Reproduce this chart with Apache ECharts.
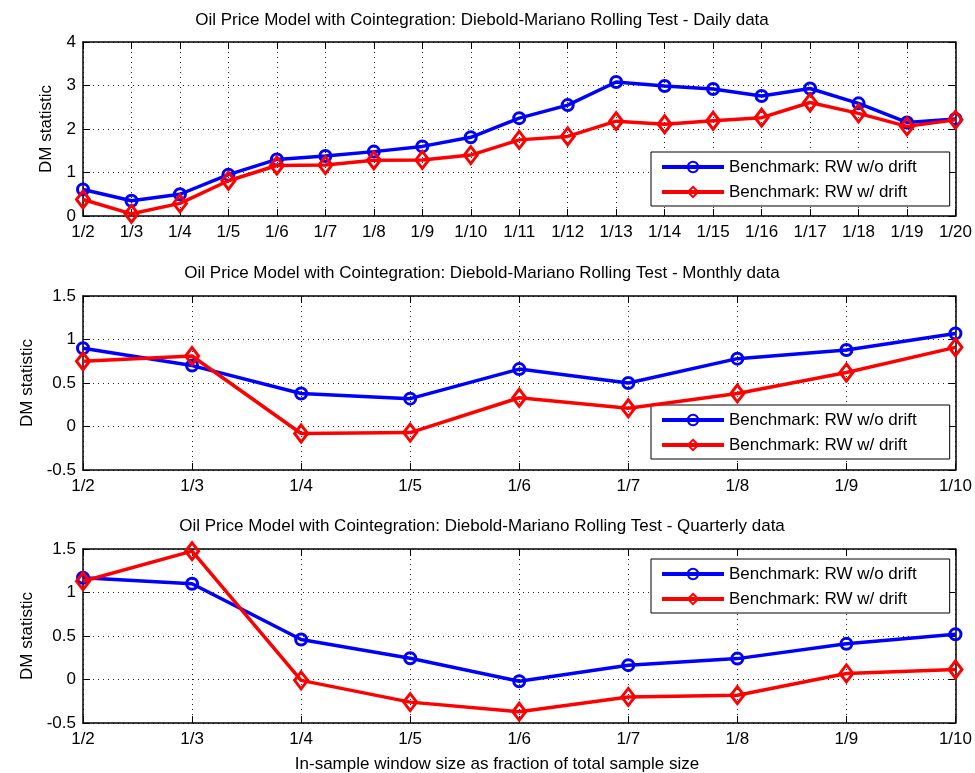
<!DOCTYPE html>
<html>
<head>
<meta charset="utf-8">
<script src="https://cdn.jsdelivr.net/npm/echarts@6/dist/echarts.min.js"></script>
<style>
html,body{margin:0;padding:0;background:#fff;}
#chart{width:975px;height:773px;}
</style>
</head>
<body>
<div id="chart"></div>
<script>
// ---- Data ----
const dailyCats = ['1/2','1/3','1/4','1/5','1/6','1/7','1/8','1/9','1/10','1/11','1/12','1/13','1/14','1/15','1/16','1/17','1/18','1/19','1/20'];
const dailyNoDrift = [0.61,0.35,0.50,0.95,1.30,1.38,1.48,1.60,1.81,2.25,2.55,3.08,2.99,2.92,2.76,2.93,2.59,2.15,2.23];
const dailyDrift   = [0.38,0.05,0.29,0.81,1.16,1.17,1.28,1.29,1.40,1.75,1.83,2.18,2.11,2.19,2.26,2.61,2.36,2.06,2.21];

const monthlyCats = ['1/2','1/3','1/4','1/5','1/6','1/7','1/8','1/9','1/10'];
const monthlyNoDrift = [0.90,0.70,0.38,0.32,0.66,0.50,0.78,0.88,1.07];
const monthlyDrift   = [0.75,0.81,-0.08,-0.07,0.33,0.21,0.38,0.62,0.91];

const quarterlyCats = ['1/2','1/3','1/4','1/5','1/6','1/7','1/8','1/9','1/10'];
const quarterlyNoDrift = [1.17,1.10,0.46,0.245,-0.02,0.165,0.24,0.41,0.52];
const quarterlyDrift   = [1.13,1.475,-0.01,-0.26,-0.37,-0.20,-0.18,0.07,0.115];

const titles = [
  'Oil Price Model with Cointegration: Diebold-Mariano Rolling Test - Daily data',
  'Oil Price Model with Cointegration: Diebold-Mariano Rolling Test - Monthly data',
  'Oil Price Model with Cointegration: Diebold-Mariano Rolling Test - Quarterly data'
];
const yName = 'DM statistic';
const xName = 'In-sample window size as fraction of total sample size';
const seriesNames = ['Benchmark: RW w/o drift', 'Benchmark: RW w/ drift'];

// ---- Layout ----
const FONT = 'Liberation Sans, Arial, sans-serif';
const FS = 17;
const panels = [
  {cats: dailyCats, a: dailyNoDrift, b: dailyDrift, min: 0, max: 4, interval: 1, top: 42, titleY: 12, legendTop: 152},
  {cats: monthlyCats, a: monthlyNoDrift, b: monthlyDrift, min: -0.5, max: 1.5, interval: 0.5, top: 296, titleY: 265, legendTop: 405},
  {cats: quarterlyCats, a: quarterlyNoDrift, b: quarterlyDrift, min: -0.5, max: 1.5, interval: 0.5, top: 549, titleY: 518, legendTop: 559}
];
const H = 174;

const option = {
  animation: false,
  backgroundColor: '#fff',
  title: [], grid: [], xAxis: [], yAxis: [], series: [], legend: []
};

const dotted = {color: '#222', width: 1, type: [1, 4]};
const frame = {show: true, onZero: false, lineStyle: {color: '#000', width: 1.5}};
const tick = {show: true, inside: true, length: 7, lineStyle: {color: '#000'}};

panels.forEach((p, i) => {
  option.title.push({
    text: titles[i], left: 482, top: p.titleY, textAlign: 'center', padding: 0,
    textStyle: {fontFamily: FONT, fontSize: FS, fontWeight: 'normal', color: '#000'}
  });
  option.grid.push({left: 83, right: 16, top: p.top, height: H, show: false});
  const xb = option.xAxis.length;
  option.xAxis.push({
    type: 'category', gridIndex: i, data: p.cats, boundaryGap: false, position: 'bottom',
    axisLine: frame, axisTick: tick,
    axisLabel: {color: '#000', fontFamily: FONT, fontSize: FS, margin: 8},
    splitLine: {show: true, lineStyle: dotted}
  });
  option.xAxis.push({
    type: 'category', gridIndex: i, data: p.cats, boundaryGap: false, position: 'top',
    axisLine: frame, axisTick: tick,
    axisLabel: {show: false}, splitLine: {show: false}
  });
  const yb = option.yAxis.length;
  option.yAxis.push({
    type: 'value', gridIndex: i, min: p.min, max: p.max, interval: p.interval, position: 'left',
    name: yName, nameLocation: 'middle', nameGap: 28,
    nameTextStyle: {color: '#000', fontFamily: FONT, fontSize: FS},
    axisLine: frame, axisTick: tick,
    axisLabel: {color: '#000', fontFamily: FONT, fontSize: FS, margin: 7},
    splitLine: {show: true, lineStyle: dotted}
  });
  option.yAxis.push({
    type: 'value', gridIndex: i, min: p.min, max: p.max, interval: p.interval, position: 'right',
    axisLine: frame, axisTick: tick,
    axisLabel: {show: false}, splitLine: {show: false}
  });
  option.series.push({
    name: seriesNames[0], type: 'line', xAxisIndex: xb, yAxisIndex: yb, data: p.a,
    symbol: 'circle', symbolSize: 11, z: 3,
    lineStyle: {color: '#0000ff', width: 3.5},
    itemStyle: {color: 'rgba(0,0,0,0)', borderColor: '#0000ff', borderWidth: 3}
  });
  option.series.push({
    name: seriesNames[1], type: 'line', xAxisIndex: xb, yAxisIndex: yb, data: p.b,
    symbol: 'diamond', symbolSize: [13, 17], z: 4,
    lineStyle: {color: '#ff0000', width: 3.5},
    itemStyle: {color: 'rgba(0,0,0,0)', borderColor: '#ff0000', borderWidth: 3}
  });
  option.legend.push({
    data: seriesNames, orient: 'vertical', left: 651, top: p.legendTop,
    backgroundColor: '#fff', borderColor: '#000', borderWidth: 1,
    padding: [5, 33, 4, 9], itemWidth: 62, itemHeight: 13, itemGap: 5, itemTextGap: 6,
    lineStyle: {width: 4},
    textStyle: {color: '#000', fontFamily: FONT, fontSize: FS, lineHeight: 20},
    selectedMode: false
  });
});

option.title.push({
  text: xName, left: 497, top: 756, textAlign: 'center', padding: 0,
  textStyle: {fontFamily: FONT, fontSize: FS, fontWeight: 'normal', color: '#000'}
});

const chart = echarts.init(document.getElementById('chart'), null, {renderer: 'canvas'});
chart.setOption(option);
</script>
</body>
</html>
